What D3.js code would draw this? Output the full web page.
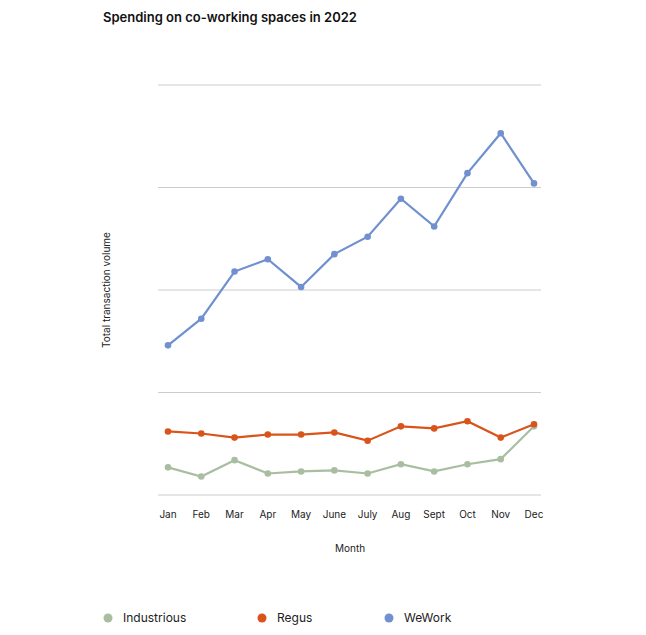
<!DOCTYPE html><html><head><meta charset="utf-8"><script src="https://cdn.jsdelivr.net/npm/d3@7"></script>
<style>body{margin:0;background:#fff;font-family:Inter,"Noto Sans",sans-serif}</style></head><body><svg id="c" width="646" height="635"></svg>
<script>
const months=["Jan","Feb","Mar","Apr","May","June","July","Aug","Sept","Oct","Nov","Dec"];
const wework=[1.46,1.72,2.18,2.30,2.03,2.35,2.52,2.89,2.62,3.14,3.53,3.04];
const regus=[0.62,0.60,0.56,0.59,0.59,0.61,0.53,0.67,0.65,0.72,0.56,0.69];
const industrious=[0.27,0.18,0.34,0.21,0.23,0.24,0.21,0.30,0.23,0.30,0.35,0.67];
const gridTicks=[0,1,2,3,4];
const series=[{name:"Industrious",values:industrious,color:"#a9bea1"},{name:"Regus",values:regus,color:"#d9541a"},{name:"WeWork",values:wework,color:"#7190d0"}];
const svg=d3.select("#c");
const x=d3.scalePoint().domain(months).range([168,534]);
const y=d3.scaleLinear().domain([0,4]).range([495,85]);
svg.append("text").attr("x",103).attr("y",22).attr("font-size",13).attr("font-weight",600).attr("fill","#111").text("Spending on co-working spaces in 2022");
svg.selectAll(".g").data(gridTicks).join("line").attr("x1",158).attr("x2",541).attr("y1",d=>y(d)).attr("y2",d=>y(d)).attr("stroke","#ccc").attr("stroke-width",1);
svg.selectAll(".xl").data(months).join("text").attr("x",d=>x(d)).attr("y",518).attr("text-anchor","middle").attr("font-size",10).attr("fill","#222").text(d=>d);
svg.append("text").attr("x",350).attr("y",552).attr("text-anchor","middle").attr("font-size",10).attr("fill","#222").text("Month");
svg.append("text").attr("transform","translate(110,290) rotate(-90)").attr("text-anchor","middle").attr("font-size",10).attr("fill","#222").text("Total transaction volume");
const line=d3.line().x((d,i)=>x(months[i])).y(d=>y(d));
series.forEach(s=>{
 svg.append("path").attr("d",line(s.values)).attr("fill","none").attr("stroke",s.color).attr("stroke-width",2.2);
 svg.selectAll(null).data(s.values).join("circle").attr("cx",(d,i)=>x(months[i])).attr("cy",d=>y(d)).attr("r",3.3).attr("fill",s.color);
});
const lx=[108,262,389];
series.forEach((s,i)=>{
 svg.append("circle").attr("cx",lx[i]).attr("cy",618).attr("r",4.5).attr("fill",s.color);
 svg.append("text").attr("x",lx[i]+15).attr("y",622).attr("font-size",12).attr("fill","#222").text(s.name);
});
</script></body></html>
